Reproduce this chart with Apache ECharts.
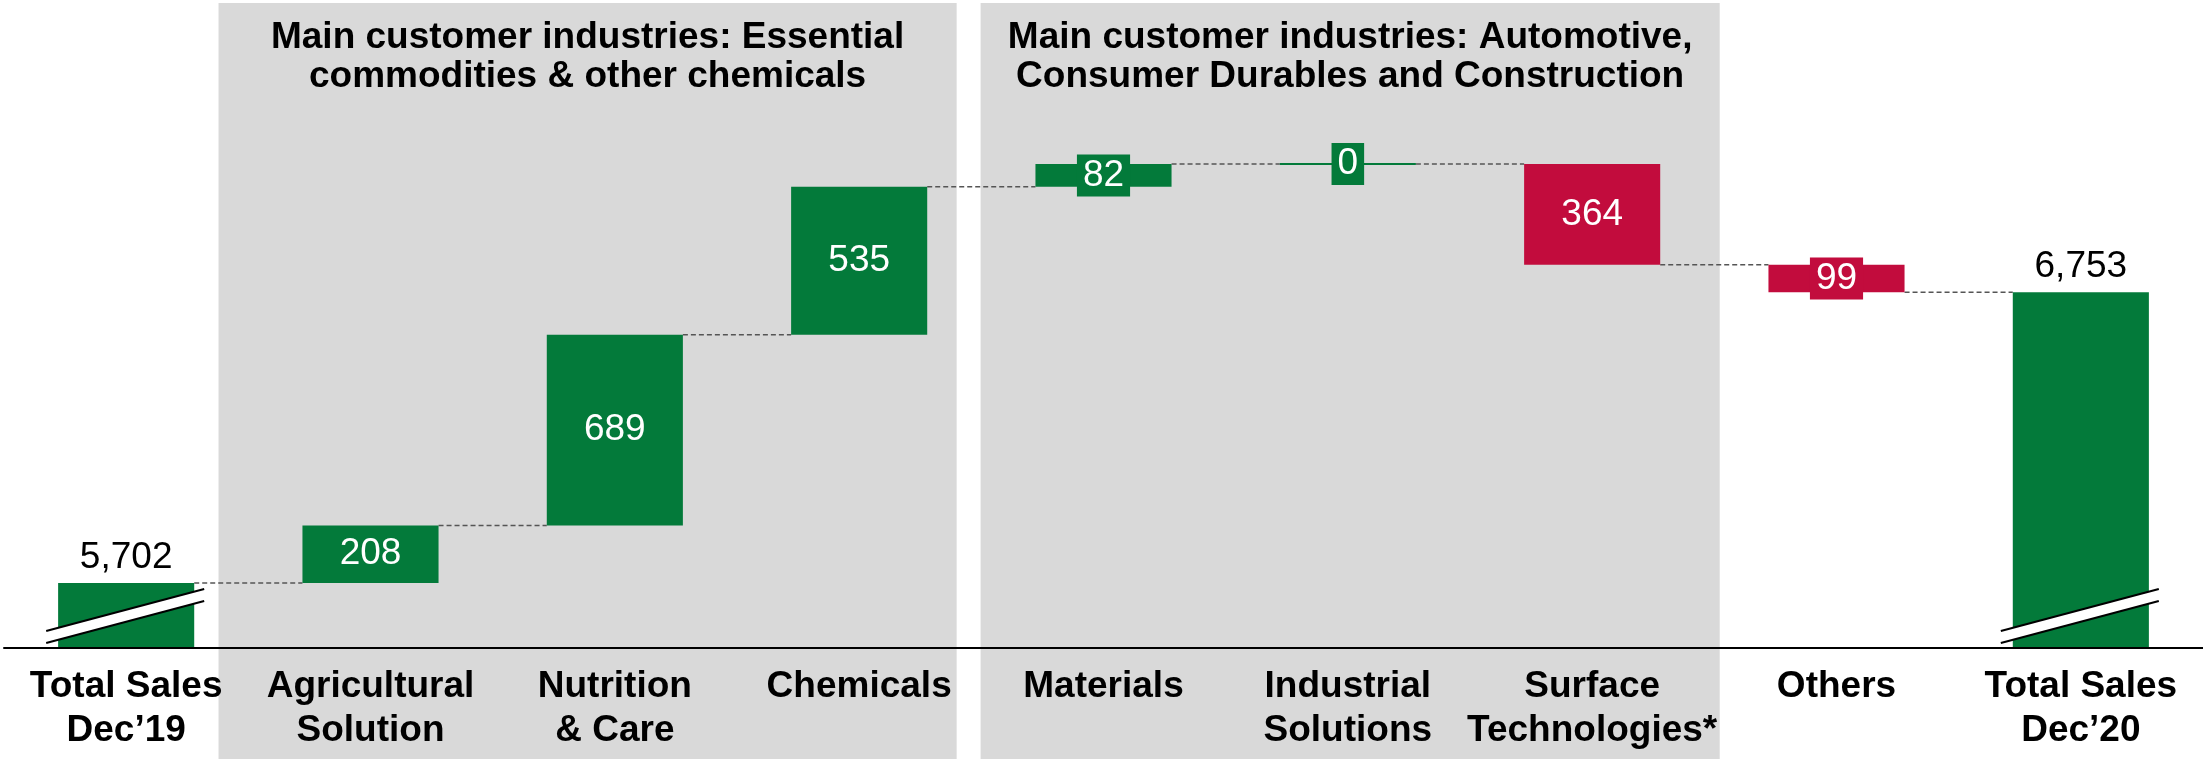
<!DOCTYPE html>
<html>
<head>
<meta charset="utf-8">
<script src="https://cdn.jsdelivr.net/npm/echarts@6/dist/echarts.min.js"></script>
<style>
html,body{margin:0;padding:0;background:#fff;}
#chart{width:2203px;height:759px;}
</style>
</head>
<body>
<div id="chart"></div>
<script>
// ---- data ----
const categories = ['Total Sales\nDec\u201919', 'Agricultural\nSolution', 'Nutrition\n& Care', 'Chemicals', 'Materials', 'Industrial\nSolutions', 'Surface\nTechnologies*', 'Others', 'Total Sales\nDec\u201920'];
const startTotal = 5702;
const deltas = [208, 689, 535, 82, 0, -364, -99];
const endTotal = 6753;
const panelTitles = [
  ['Main customer industries: Essential', 'commodities & other chemicals'],
  ['Main customer industries: Automotive,', 'Consumer Durables and Construction']
];
const panelCategories = [[1, 3], [4, 6]];
const axisMin = 5467;   // broken axis baseline
const axisMax = 7798;

// ---- styles ----
const GREEN = '#037A3A', RED = '#C20C3D', GREY = '#D9D9D9';
const FONT = '"Liberation Sans", Arial, Helvetica, sans-serif';

// ---- build waterfall rows: [index, low, high, levelAfter] ----
const rows = [];
const kinds = [];
const labels = [];
rows.push([0, axisMin, startTotal, startTotal]); kinds.push('total'); labels.push(startTotal.toLocaleString('en-US'));
let run = startTotal;
deltas.forEach((d, k) => {
  const next = run + d;
  rows.push([k + 1, Math.min(run, next), Math.max(run, next), next]);
  kinds.push(d >= 0 ? 'inc' : 'dec');
  labels.push(String(Math.abs(d)));
  run = next;
});
rows.push([categories.length - 1, axisMin, endTotal, endTotal]); kinds.push('total'); labels.push(endTotal.toLocaleString('en-US'));

function renderItem(params, api) {
  const idx = params.dataIndex;
  const i = api.value(0), lo = api.value(1), hi = api.value(2), lvl = api.value(3);
  const band = api.size([1, 0])[0];
  const bw = band * 0.557;
  const pTop = api.coord([i, hi]);
  const pBot = api.coord([i, lo]);
  const cx = pTop[0];
  let y = pTop[1], h = pBot[1] - pTop[1];
  if (h < 2) { y = pTop[1] - 1; h = 2; }
  const kind = kinds[idx];
  const color = kind === 'dec' ? RED : GREEN;
  const children = [];
  // connector to the next bar
  if (idx < rows.length - 1) {
    const pl = api.coord([i, lvl]);
    const pn = api.coord([i + 1, lvl]);
    children.push({
      type: 'line', z2: 0,
      shape: { x1: cx + bw / 2, y1: pl[1], x2: pn[0] - bw / 2, y2: pl[1] },
      style: { stroke: '#555555', lineWidth: 1.5, lineDash: [5, 3] }
    });
  }
  children.push({ type: 'rect', z2: 1, shape: { x: cx - bw / 2, y: y, width: bw, height: h }, style: { fill: color } });
  if (kind === 'total') {
    const y0 = pBot[1];
    children.push({
      type: 'polygon', z2: 3,
      shape: { points: [[cx - 80, y0 - 17], [cx + 78, y0 - 59], [cx + 78, y0 - 47], [cx - 80, y0 - 5]] },
      style: { fill: '#ffffff' }
    });
    children.push({ type: 'line', z2: 4, shape: { x1: cx - 80, y1: y0 - 17, x2: cx + 78, y2: y0 - 59 }, style: { stroke: '#000', lineWidth: 2 } });
    children.push({ type: 'line', z2: 4, shape: { x1: cx - 80, y1: y0 - 5, x2: cx + 78, y2: y0 - 47 }, style: { stroke: '#000', lineWidth: 2 } });
    children.push({
      type: 'text', z2: 5,
      style: { text: labels[idx], x: cx, y: pTop[1] - 25, align: 'center', verticalAlign: 'middle', fill: '#000', font: '37px ' + FONT }
    });
  } else {
    const small = h < 44;
    const st = { text: labels[idx], x: cx, y: y + h / 2, align: 'center', verticalAlign: 'middle', fill: '#fff', font: '37px ' + FONT, lineHeight: 38 };
    if (small) { st.backgroundColor = color; st.padding = [2, 6]; }
    children.push({ type: 'text', z2: 5, style: st });
  }
  return { type: 'group', children: children };
}

const chart = echarts.init(document.getElementById('chart'), null, { renderer: 'canvas' });
chart.setOption({
  animation: false,
  backgroundColor: '#ffffff',
  grid: { left: 4, right: 0, top: 3, bottom: 111, containLabel: false },
  xAxis: {
    type: 'category', data: categories, z: 3,
    axisLine: { show: true, lineStyle: { color: '#000', width: 2 } },
    axisTick: { show: false },
    axisLabel: { interval: 0, margin: 17, verticalAlign: 'top', lineHeight: 44, color: '#000', fontSize: 37, fontWeight: 'bold', fontFamily: FONT }
  },
  yAxis: { type: 'value', min: axisMin, max: axisMax, show: false, splitLine: { show: false } },
  series: [{
    type: 'custom', renderItem: renderItem, data: rows, z: 2,
    encode: { x: 0, y: [1, 2] }, clip: false
  }]
});

function px(i) { return chart.convertToPixel({ xAxisIndex: 0 }, i); }
const band = (px(categories.length - 1) - px(0)) / (categories.length - 1);
const panelOffsets = [[0.622, 0.399], [0.503, 0.522]];
const graphics = [];
panelCategories.forEach((pc, k) => {
  const x1 = px(pc[0]) - panelOffsets[k][0] * band;
  const x2 = px(pc[1]) + panelOffsets[k][1] * band;
  graphics.push({ type: 'rect', z: -10, shape: { x: x1, y: 3, width: x2 - x1, height: 756 }, style: { fill: GREY } });
  graphics.push({
    type: 'text', z: 10, x: (x1 + x2) / 2, y: 57,
    style: { text: panelTitles[k].join('\n'), align: 'center', verticalAlign: 'middle', font: 'bold 37px ' + FONT, lineHeight: 39, fill: '#000' }
  });
});
chart.setOption({ graphic: graphics });
</script>
</body>
</html>
